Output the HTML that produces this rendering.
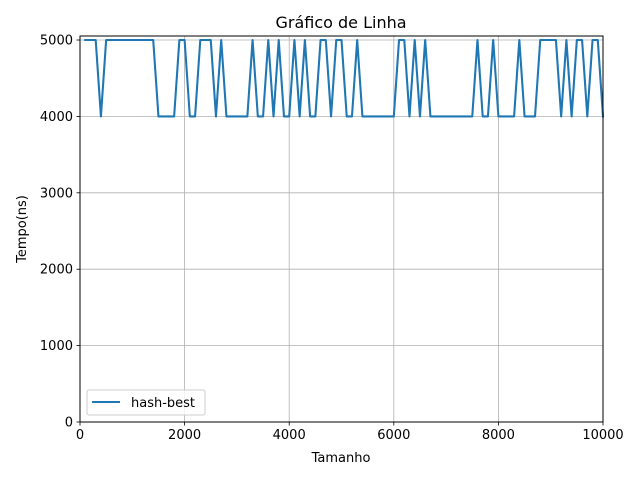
<!DOCTYPE html>
<html><head><meta charset="utf-8"><style>
body{margin:0;background:#fff}
svg{font-family:"DejaVu Sans","Liberation Sans",sans-serif}
</style></head><body>
<svg id="chart" width="640" height="480" xmlns="http://www.w3.org/2000/svg">
<rect width="640" height="480" fill="#fff"/>
<g id="grid"></g>
<g id="axes"></g>
<path id="line" fill="none" stroke="#1f77b4" stroke-width="2.08" stroke-linejoin="round" stroke-linecap="square"/>
<rect x="80" y="36" width="523" height="386" fill="none" stroke="#000" stroke-width="1"/>
<text x="341" y="28" text-anchor="middle" font-size="16">Gráfico de Linha</text>
<text x="341" y="462" text-anchor="middle" font-size="13">Tamanho</text>
<text x="26" y="229" text-anchor="middle" font-size="13" transform="rotate(-90 26 229)">Tempo(ns)</text>
<g>
<rect x="87" y="390" width="118" height="25" rx="2" fill="#fff" fill-opacity="0.8" stroke="#ccc"/>
<line x1="92" y1="402" x2="120" y2="402" stroke="#1f77b4" stroke-width="2.08"/>
<text x="131" y="407" font-size="13">hash-best</text>
</g>
</svg>
<script>
const xTicks=[0,2000,4000,6000,8000,10000];
const yTicks=[0,1000,2000,3000,4000,5000];
const xValues=[100,200,300,400,500,600,700,800,900,1000,1100,1200,1300,1400,1500,1600,1700,1800,1900,2000,2100,2200,2300,2400,2500,2600,2700,2800,2900,3000,3100,3200,3300,3400,3500,3600,3700,3800,3900,4000,4100,4200,4300,4400,4500,4600,4700,4800,4900,5000,5100,5200,5300,5400,5500,5600,5700,5800,5900,6000,6100,6200,6300,6400,6500,6600,6700,6800,6900,7000,7100,7200,7300,7400,7500,7600,7700,7800,7900,8000,8100,8200,8300,8400,8500,8600,8700,8800,8900,9000,9100,9200,9300,9400,9500,9600,9700,9800,9900,10000];
const yValues=[5000,5000,5000,4000,5000,5000,5000,5000,5000,5000,
5000,5000,5000,5000,4000,4000,4000,4000,5000,5000,
4000,4000,5000,5000,5000,4000,5000,4000,4000,4000,
4000,4000,5000,4000,4000,5000,4000,5000,4000,4000,
5000,4000,5000,4000,4000,5000,5000,4000,5000,5000,
4000,4000,5000,4000,4000,4000,4000,4000,4000,4000,
5000,5000,4000,5000,4000,5000,4000,4000,4000,4000,
4000,4000,4000,4000,4000,5000,4000,4000,5000,4000,
4000,4000,4000,5000,4000,4000,4000,5000,5000,5000,
5000,4000,5000,4000,5000,5000,4000,5000,5000,4000];
const sx=v=>80+v*523/10000;
const sy=v=>422-v*382/5000;
const NS="http://www.w3.org/2000/svg";
const grid=document.getElementById('grid'),axes=document.getElementById('axes');
function mk(tag,attrs,parent){const e=document.createElementNS(NS,tag);for(const k in attrs)e.setAttribute(k,attrs[k]);parent.appendChild(e);return e;}
xTicks.forEach(t=>{
 const x=sx(t);
 const g=mk('line',{x1:x,x2:x,y1:36,y2:422,stroke:'#b0b0b0','stroke-width':0.8},grid);
 
 
 const tk=mk('line',{x1:x,x2:x,y1:422,y2:425.5,stroke:'#000','stroke-width':0.8},axes);
 
 
 const lb=mk('text',{x:x,y:439,'text-anchor':'middle','font-size':13},axes);
 lb.textContent=t;
 
 
});
yTicks.forEach(t=>{
 const y=sy(t);
 const g=mk('line',{x1:80,x2:603,y1:y,y2:y,stroke:'#b0b0b0','stroke-width':0.8},grid);
 
 
 const tk=mk('line',{x1:76.5,x2:80,y1:y,y2:y,stroke:'#000','stroke-width':0.8},axes);
 
 
 const lb=mk('text',{x:73,y:y+4.5,'text-anchor':'end','font-size':13},axes);
 lb.textContent=t;
 
 
});
document.getElementById('line').setAttribute('d',xValues.map((v,i)=>(i?'L':'M')+sx(v).toFixed(2)+' '+sy(yValues[i]).toFixed(2)).join(' '));
</script>
</body></html>
